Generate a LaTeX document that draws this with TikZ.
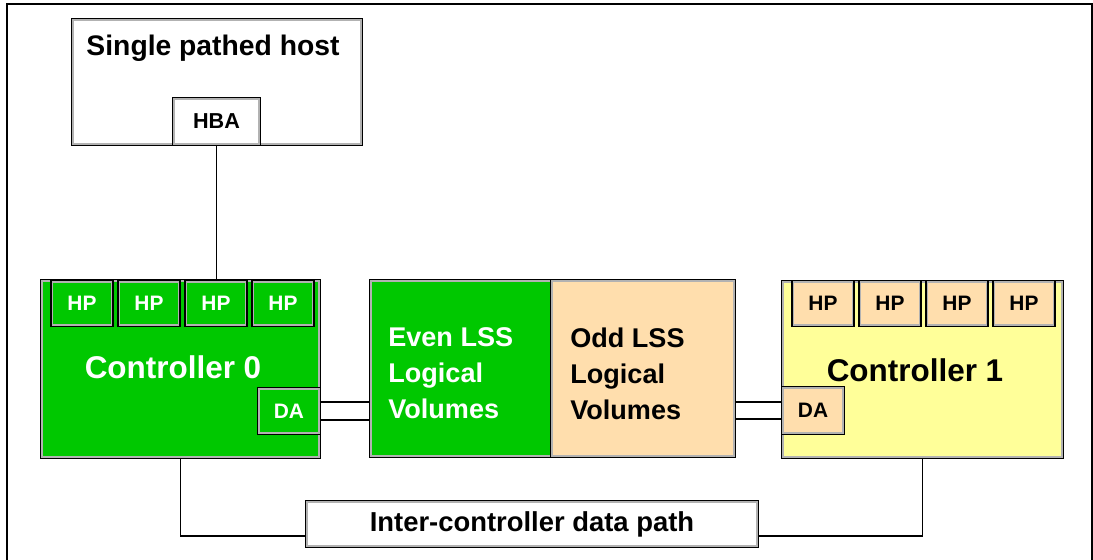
\documentclass[tikz,border=0pt]{standalone}
\usepackage{fontspec}
\setmainfont{Liberation Sans}
\definecolor{ctrlgreen}{RGB}{0,200,0}
\definecolor{oddpeach}{RGB}{255,222,173}
\definecolor{ctrlyellow}{RGB}{255,255,153}
\definecolor{rimgray}{RGB}{178,178,178}
\tikzstyle{box}=[rectangle,draw=rimgray,line width=1.1pt,preaction={draw=black,line width=2.8pt},inner sep=0pt]
\tikzstyle{port}=[box,minimum width=1.18cm,minimum height=0.86cm,font=\bfseries\fontsize{11.9}{14}\selectfont]
\tikzstyle{wire}=[line width=1.1pt]
\tikzstyle{ctrltext}=[inner sep=0pt,font=\bfseries\fontsize{17.9}{21}\selectfont]
\tikzstyle{lsstext}=[inner sep=0pt,align=left,font=\bfseries\fontsize{15.4}{20.4}\selectfont]

\begin{document}
\begin{tikzpicture}[x=0.02cm, y=-0.02cm]
\useasboundingbox (0, 0) rectangle (1093, 560);
\draw[line width=0.75pt] (7, 560) -- (7, 4) -- (1092, 4) -- (1092, 560);
% host
\node[box, fill=white, minimum width=5.76cm, minimum height=2.48cm] at (217, 82) (host) {};
\node[inner sep=0pt, font=\bfseries\fontsize{16.1}{19}\selectfont] at (213, 48) (hosttitle) {Single pathed host};
\node[port, fill=white, minimum width=1.7cm, minimum height=0.9cm, font=\bfseries\fontsize{12.3}{14}\selectfont] at (216.5, 121.5) (hba) {HBA};
% controller 0
\node[box, fill=ctrlgreen, minimum width=5.54cm, minimum height=3.52cm] at (180.5, 369) (ctrl0) {};
\node[ctrltext, text=white] at (173, 367) (ctrl0text) {Controller 0};
\node[port, fill=ctrlgreen, text=white] at (82, 303.5) (hp0a) {HP};
\node[port, fill=ctrlgreen, text=white] at (149, 303.5) (hp0b) {HP};
\node[port, fill=ctrlgreen, text=white] at (216, 303.5) (hp0c) {HP};
\node[port, fill=ctrlgreen, text=white] at (283, 303.5) (hp0d) {HP};
\node[port, fill=ctrlgreen, text=white, minimum width=1.2cm, minimum height=0.88cm] at (289, 411) (da0) {DA};
% logical volumes
\node[box, fill=ctrlgreen, minimum width=3.62cm, minimum height=3.5cm] at (461.5, 368.5) (even) {};
\node[box, fill=oddpeach, minimum width=3.64cm, minimum height=3.5cm] at (643, 368.5) (odd) {};
\node[lsstext, text=white, anchor=west] at (388, 373.5) (eventext) {Even LSS\\Logical\\Volumes};
\node[lsstext, anchor=west] at (570, 373.5) (oddtext) {Odd LSS\\Logical\\Volumes};
% controller 1
\node[box, fill=ctrlyellow, minimum width=5.58cm, minimum height=3.5cm] at (922.5, 369.5) (ctrl1) {};
\node[ctrltext] at (915, 370) (ctrl1text) {Controller 1};
\node[port, fill=oddpeach] at (823, 303.5) (hp1a) {HP};
\node[port, fill=oddpeach] at (890, 303.5) (hp1b) {HP};
\node[port, fill=oddpeach] at (957, 303.5) (hp1c) {HP};
\node[port, fill=oddpeach] at (1024, 303.5) (hp1d) {HP};
\node[port, fill=oddpeach, minimum width=1.2cm, minimum height=0.9cm] at (813, 410.5) (da1) {DA};
% inter-controller path
\node[box, fill=white, minimum width=9cm, minimum height=0.88cm, font=\bfseries\fontsize{15.6}{18}\selectfont] at (532, 524) (inter) {Inter-controller data path};
\draw[wire] (hba.south) -- (hba.south |- ctrl0.north);
\draw[wire] ([yshift=5.1pt]da0.east) -- ([yshift=5.1pt]da0.east -| even.west);
\draw[wire] ([yshift=-5.1pt]da0.east) -- ([yshift=-5.1pt]da0.east -| even.west);
\draw[wire] ([yshift=5.1pt]da1.west) -- ([yshift=5.1pt]da1.west -| odd.east);
\draw[wire] ([yshift=-5.1pt]da1.west) -- ([yshift=-5.1pt]da1.west -| odd.east);
\draw[wire] (ctrl0.south) |- ([yshift=-6.8pt]inter.west);
\draw[wire] (ctrl1.south) |- ([yshift=-6.8pt]inter.east);
\end{tikzpicture}
\end{document}
